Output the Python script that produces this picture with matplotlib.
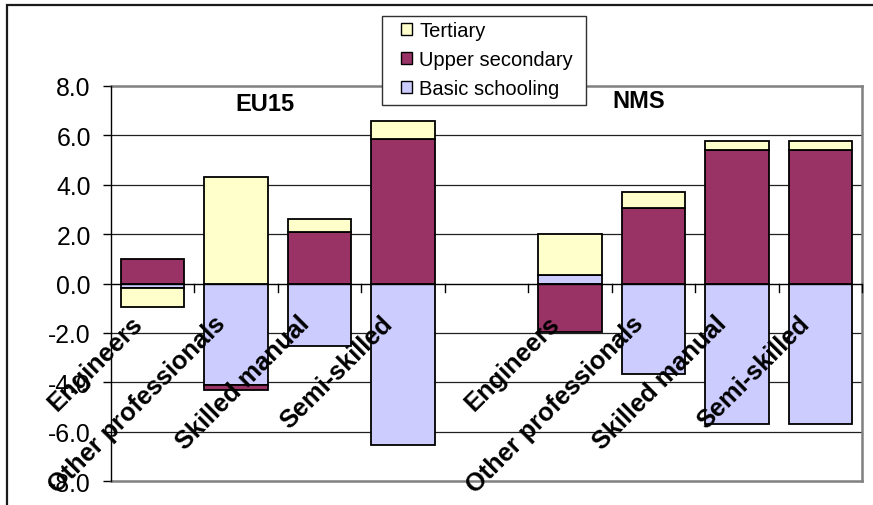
import matplotlib
matplotlib.use("Agg")
import matplotlib.pyplot as plt
from matplotlib.patches import Rectangle, Patch
import numpy as np

plt.rcParams['font.family'] = ['Liberation Sans', 'DejaVu Sans']
plt.rcParams['axes.unicode_minus'] = False

# Occupational groups shown for each region
occupations = ["Engineers", "Other professionals", "Skilled manual", "Semi-skilled"]
regions = ["EU15", "NMS"]

# Change by education level, EU15
basic_eu15 = [-0.20, -4.10, -2.55, -6.55]
upper_eu15 = [1.00, -0.20, 2.08, 5.87]
tertiary_eu15 = [-0.75, 4.33, 0.52, 0.72]

# Change by education level, new member states
basic_nms = [0.34, -3.67, -5.71, -5.71]
upper_nms = [-1.98, 3.04, 5.42, 5.42]
tertiary_nms = [1.68, 0.66, 0.34, 0.34]

series_names = ["Basic schooling", "Upper secondary", "Tertiary"]
series_colors = ["#CCCCFF", "#993366", "#FFFFCC"]

y_ticks = [-8.0, -6.0, -4.0, -2.0, 0.0, 2.0, 4.0, 6.0, 8.0]

# Two groups of four columns with one empty slot between them
x_eu = np.arange(len(occupations))
x_nms = x_eu + len(occupations) + 1
x_all = np.concatenate([x_eu, x_nms])
series_values = [
    np.array(basic_eu15 + basic_nms),
    np.array(upper_eu15 + upper_nms),
    np.array(tertiary_eu15 + tertiary_nms),
]

W, H = 873, 506
fig = plt.figure(figsize=(W / 100, H / 100), dpi=100)
ax = fig.add_axes([111 / W, 1 - 482 / H, (862 - 111) / W, (482 - 87) / H])

# Outer chart frame (left and top edges visible)
fig.patches.append(Rectangle((7 / W, -0.1), 1.2, 1.1 - 6 / H,
                             transform=fig.transFigure, fill=False,
                             edgecolor="#1a1a1a", linewidth=1.6, zorder=0))

# Horizontal gridlines
for yv in [-6, -4, -2, 2, 4, 6]:
    ax.axhline(yv, color="#202020", linewidth=0.9, zorder=1)
ax.axhline(0, color="#000000", linewidth=1.0, zorder=4)

# Stacked columns: positives stack upward, negatives downward
pos_base = np.zeros(len(x_all))
neg_base = np.zeros(len(x_all))
bar_w = 0.76
for vals, name, col in zip(series_values, series_names, series_colors):
    bottoms = np.where(vals >= 0, pos_base, neg_base)
    ax.bar(x_all, vals, bottom=bottoms, width=bar_w, color=col,
           edgecolor="#000000", linewidth=1.3, zorder=3, label=name)
    pos_base = pos_base + np.where(vals >= 0, vals, 0)
    neg_base = neg_base + np.where(vals < 0, vals, 0)

ax.set_xlim(-0.5, x_nms[-1] + 0.5)
ax.set_ylim(-8, 8)
ax.set_yticks(y_ticks)
ax.set_yticklabels([f"{v:.1f}" for v in y_ticks], fontsize=17.8)
ax.tick_params(axis="y", direction="out", length=6, width=1.0, color="#000000", pad=8.5)

# Category boundary ticks on the zero line
ax.set_xticks([])
for xb in np.arange(0.5, x_nms[-1] + 0.6, 1.0):
    ax.plot([xb, xb], [0, -0.34], color="#000000", linewidth=1.0, zorder=4,
            clip_on=False)

for side in ["top", "right", "bottom"]:
    ax.spines[side].set_color("#808080")
    ax.spines[side].set_linewidth(1.8)
ax.spines["left"].set_color("#000000")
ax.spines["left"].set_linewidth(1.0)
ax.spines["left"].set_zorder(5)

# Rotated category labels under the zero line
for xs in (x_eu, x_nms):
    for xi, lab in zip(xs, occupations):
        ax.text(xi - 0.27, -1.12, lab, rotation=45, rotation_mode="anchor",
                ha="right", va="top", fontsize=18.3, fontweight="bold",
                color="#000000", zorder=6, clip_on=False)

# Region headings
fig.text(264.5 / W, 1 - 104.5 / H, regions[0], ha="center", va="center",
         fontsize=17, fontweight="bold")
fig.text(639 / W, 1 - 101.5 / H, regions[1], ha="center", va="center",
         fontsize=17, fontweight="bold")

# Legend box, drawn over the top edge of the plot area
fig.patches.append(Rectangle((382 / W, 1 - 106 / H), (586 - 382) / W, (106 - 17) / H,
                             transform=fig.transFigure, facecolor="white",
                             edgecolor="#303030", linewidth=1.0, zorder=4))

# Legend entries listed from top of stack to bottom
handles = [Patch(facecolor=c, edgecolor="#000000", linewidth=1.0)
           for c in series_colors][::-1]
labels = series_names[::-1]
leg = fig.legend(handles, labels, loc="upper left",
                 bbox_to_anchor=(401 / W, 1 - 22 / H), fontsize=14.5,
                 frameon=False, handlelength=0.55, handleheight=0.55,
                 handletextpad=0.35, labelspacing=0.5, borderpad=0.0,
                 borderaxespad=0.0)
leg.set_zorder(6)

fig.savefig("out.png", dpi=100)
